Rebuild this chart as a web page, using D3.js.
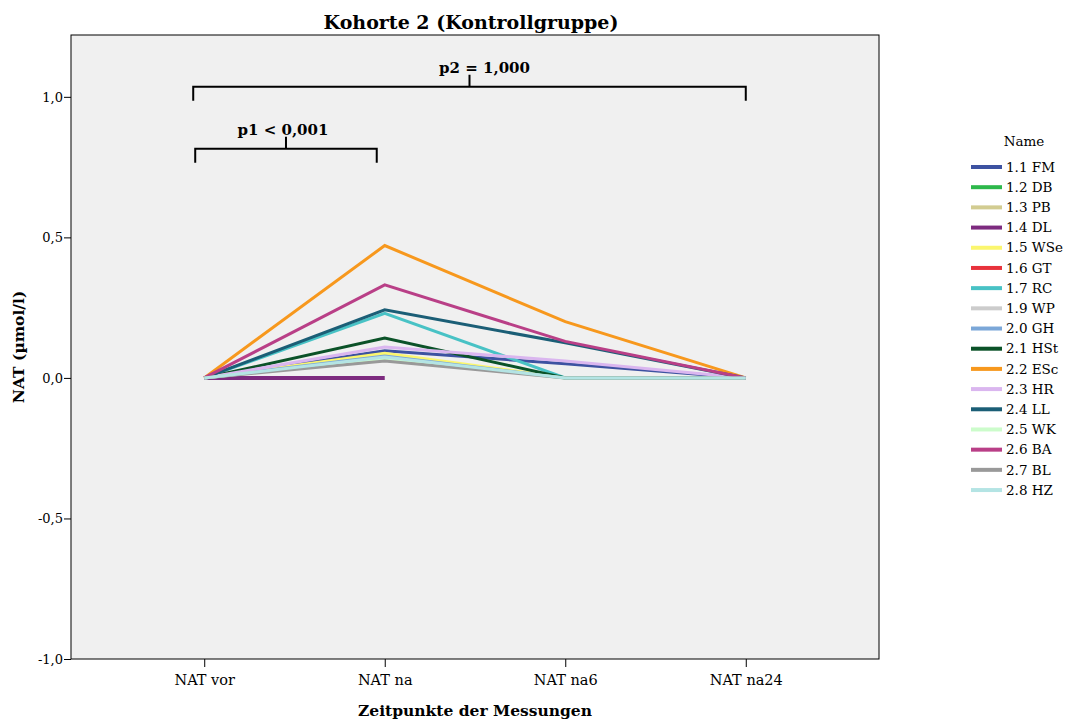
<!DOCTYPE html>
<html>
<head>
<meta charset="utf-8">
<script src="https://cdn.jsdelivr.net/npm/d3@7"></script>
<style>
  body { margin: 0; background: #fff; }
  text { font-family: "DejaVu Serif", "Liberation Serif", serif; }
  .axis path, .axis line { stroke: #000; }
</style>
</head>
<body>
<div id="chart"></div>
<script>
const timepoints = ["NAT vor", "NAT na", "NAT na6", "NAT na24"];
const names = ["1.1 FM", "1.2 DB", "1.3 PB", "1.4 DL", "1.5 WSe", "1.6 GT", "1.7 RC", "1.9 WP", "2.0 GH",
  "2.1 HSt", "2.2 ESc", "2.3 HR", "2.4 LL", "2.5 WK", "2.6 BA", "2.7 BL", "2.8 HZ"];
const colours = ["#3d52a1", "#2db84b", "#d2cc91", "#7d2b7f", "#fbf66e", "#e8323c", "#48c2c5", "#cccccc", "#7ba7d8",
  "#0b5228", "#f7981d", "#dab6ef", "#1b5e76", "#ccfccb", "#b93f87", "#999999", "#b4e4e4"];

// one value per person, null = missing
const natVor  = [0, null, null, 0, 0, null, 0, null, 0, 0, 0, 0, 0, 0, 0, 0, 0];
const natNa   = [0.097, null, null, 0, 0.088, null, 0.23, null, 0.078, 0.142, 0.471, 0.11, 0.242, 0.068, 0.331, 0.06, 0.074];
const natNa6  = [0.05, null, null, null, 0, null, 0, null, 0, 0, 0.2, 0.06, 0.125, 0, 0.13, 0, 0];
const natNa24 = [0, null, null, null, 0, null, 0, null, 0, 0, 0, 0, 0, 0, 0, 0, 0];

const yTicks = [-1, -0.5, 0, 0.5, 1];
const brackets = [
  { from: "NAT vor", to: "NAT na24", y: 1.036, label: "p2 = 1,000", dxFrom: -11, dxTo: 0, dxText: 15 },
  { from: "NAT vor", to: "NAT na", y: 0.815, label: "p1 < 0,001", dxFrom: -9, dxTo: -8, dxText: -3 }
];

const width = 1067, height = 722,
  margin = { top: 35, right: 188, bottom: 63, left: 71 },
  chartWidth = width - margin.left - margin.right,
  chartHeight = height - margin.top - margin.bottom;

const series = names.map((n, i) => ({
  name: n,
  colour: colours[i],
  values: [natVor[i], natNa[i], natNa6[i], natNa24[i]].map((v, j) => ({ t: timepoints[j], v: v }))
}));

const xScale = d3.scalePoint().domain(timepoints).range([0, chartWidth]).padding(0.738);
const yScale = d3.scaleLinear().domain([-1, 1.22]).range([chartHeight, 0]);

const svg = d3.select("#chart").append("svg").attr("width", width).attr("height", height);

const chart = svg.append("g").attr("transform", `translate(${margin.left}, ${margin.top})`);

chart.append("rect")
  .attr("width", chartWidth).attr("height", chartHeight)
  .attr("fill", "#f0f0f0").attr("stroke", "#000").attr("stroke-width", 1);

const yAxis = d3.axisLeft(yScale).tickValues(yTicks).tickSize(7).tickPadding(1)
  .tickFormat(d => d3.format(".1f")(d).replace(".", ",").replace("−", "-"));
chart.append("g").attr("class", "y axis").call(yAxis)
  .call(g => g.select(".domain").remove())
  .selectAll("text").style("font-size", "13px").attr("fill", "#000");

const xAxis = d3.axisBottom(xScale).tickSize(8).tickPadding(8);
chart.append("g").attr("class", "x axis")
  .attr("transform", `translate(0, ${chartHeight})`).call(xAxis)
  .call(g => g.select(".domain").remove())
  .selectAll("text").style("font-size", "14.5px").attr("fill", "#000");

// lines
const line = d3.line()
  .defined(d => d.v !== null)
  .x(d => xScale(d.t))
  .y(d => yScale(d.v));

chart.selectAll(".person")
  .data(series)
  .enter()
  .append("path")
  .attr("class", "person")
  .attr("fill", "none")
  .attr("stroke", d => d.colour)
  .attr("stroke-width", d => d.name === "1.4 DL" ? 4 : 3)
  .attr("d", d => line(d.values));

// significance brackets
const br = chart.selectAll(".bracket").data(brackets).enter().append("g").attr("class", "bracket");
br.append("path")
  .attr("fill", "none").attr("stroke", "#000").attr("stroke-width", 2)
  .attr("d", d => {
    const x0 = xScale(d.from) + d.dxFrom, x1 = xScale(d.to) + d.dxTo, y = yScale(d.y);
    const xm = (x0 + x1) / 2;
    return `M${x0},${y + 14} V${y} H${x1} V${y + 14} M${xm},${y} V${y - 12}`;
  });
br.append("text")
  .attr("x", d => (xScale(d.from) + d.dxFrom + xScale(d.to) + d.dxTo) / 2 + d.dxText)
  .attr("y", d => yScale(d.y) - 14)
  .attr("text-anchor", "middle")
  .style("font-size", "15px").style("font-weight", "bold")
  .text(d => d.label);

// titles
svg.append("text")
  .attr("x", 471).attr("y", 29)
  .attr("text-anchor", "middle")
  .style("font-size", "19px").style("font-weight", "bold")
  .text("Kohorte 2 (Kontrollgruppe)");

svg.append("text")
  .attr("x", 475).attr("y", 716)
  .attr("text-anchor", "middle")
  .style("font-size", "15.5px").style("font-weight", "bold")
  .text("Zeitpunkte der Messungen");

svg.append("text")
  .attr("transform", `translate(24, ${margin.top + chartHeight / 2}) rotate(-90)`)
  .attr("text-anchor", "middle")
  .style("font-size", "15.5px").style("font-weight", "bold")
  .text("NAT (µmol/l)");

// legend
const legend = svg.append("g").attr("transform", "translate(971, 0)");
legend.append("text")
  .attr("x", 53).attr("y", 146)
  .attr("text-anchor", "middle")
  .style("font-size", "13.5px")
  .text("Name");

const item = legend.selectAll(".item").data(series).enter().append("g")
  .attr("class", "item")
  .attr("transform", (d, i) => `translate(0, ${167 + i * 20.19})`);
item.append("line")
  .attr("x1", 0).attr("x2", 31)
  .attr("stroke", d => d.colour).attr("stroke-width", 4);
item.append("text")
  .attr("x", 35).attr("dy", "0.35em")
  .style("font-size", "13.5px")
  .text(d => d.name);
</script>
</body>
</html>
